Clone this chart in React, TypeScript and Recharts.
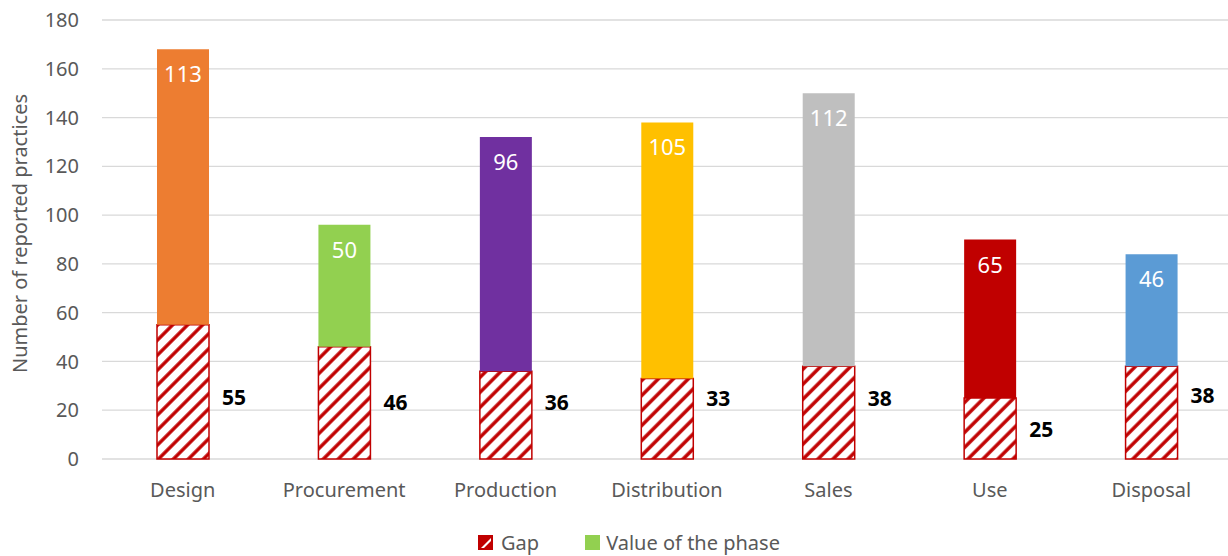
import React from 'react';
import { BarChart, Bar, XAxis, YAxis, CartesianGrid, Legend, LabelList, Cell } from 'recharts';

const categories = ['Design', 'Procurement', 'Production', 'Distribution', 'Sales', 'Use', 'Disposal'];
const gapValues = [55, 46, 36, 33, 38, 25, 38];
const phaseValues = [113, 50, 96, 105, 112, 65, 46];
const phaseColors = ['#ED7D31', '#92D050', '#7030A0', '#FFC000', '#BFBFBF', '#C00000', '#5B9BD5'];
const yTicks = [0, 20, 40, 60, 80, 100, 120, 140, 160, 180];
const seriesNames = ['Gap', 'Value of the phase'];
const yAxisTitle = 'Number of reported practices';

const data = categories.map((c, i) => ({ name: c, gap: gapValues[i], value: phaseValues[i] }));

// vertical nudges (px) of the manually placed gap labels relative to segment centre
const gapLabelNudge = [5, -1, -13, -21, -15, 0, -18];

const FONT = '"Noto Sans", sans-serif';
const RED = '#C00000';
const GREY = '#595959';

const GapLabel = (props: any) => {
  const { x, y, width, height, value, index } = props;
  const dy = gapLabelNudge[index] ?? 0;
  return (
    <text x={x + width + 13} y={y + height / 2 + dy} dominantBaseline="central" fontFamily={FONT}
      fontSize={21} fontWeight="bold" fill="#000">{value}</text>
  );
};

const ValueLabel = (props: any) => {
  const { x, y, width, value } = props;
  return (
    <text x={x + width / 2} y={y + 33} textAnchor="middle" fontFamily={FONT} fontSize={22} fill="#fff">{value}</text>
  );
};

const renderLegend = () => (
  <div style={{ display: 'flex', justifyContent: 'center', alignItems: 'center', fontFamily: FONT, fontSize: 20, color: GREY, paddingLeft: 26, paddingTop: 15 }}>
    <div style={{ display: 'flex', alignItems: 'center', marginRight: 46 }}>
      <svg width={15} height={15} style={{ marginRight: 8 }}>
        <rect x={0} y={0} width={15} height={15} fill={RED} />
        <polygon points="3,13 13,3 13,6 6,13" fill="#fff" />
        <rect x={0.75} y={0.75} width={13.5} height={13.5} fill="none" stroke={RED} strokeWidth={1.5} />
      </svg>
      <span>{seriesNames[0]}</span>
    </div>
    <div style={{ display: 'flex', alignItems: 'center' }}>
      <svg width={15} height={15} style={{ marginRight: 6 }}>
        <rect x={0} y={0} width={15} height={15} fill="#92D050" />
      </svg>
      <span>{seriesNames[1]}</span>
    </div>
  </div>
);

const YTitle = (props: any) => {
  const vb = props.viewBox || { x: 0, y: 20, width: 100, height: 439 };
  const cx = 19;
  const cy = vb.y + vb.height / 2 - 6;
  return (
    <text x={cx} y={cy} transform={`rotate(-90, ${cx}, ${cy})`} textAnchor="middle" dominantBaseline="central"
      fontFamily={FONT} fontSize={20} fill={GREY}>{yAxisTitle}</text>
  );
};

export default function App() {
  return (
    <div style={{ position: 'fixed', left: 0, top: 0, width: 1228, height: 556, overflow: 'hidden', background: '#fff' }}>
      <BarChart width={1232} height={556} data={data} margin={{ top: 20, right: 0, left: 0, bottom: 0 }}>
        <defs>
          <pattern id="hatch" patternUnits="userSpaceOnUse" width={10.6} height={10.6} patternTransform="rotate(45)">
            <rect x={0} y={0} width={10.6} height={10.6} fill="#fff" />
            <line x1={2} y1={0} x2={2} y2={10.6} stroke={RED} strokeWidth={3.4} />
          </pattern>
        </defs>
        <CartesianGrid vertical={false} stroke="#D9D9D9" strokeWidth={1.3} />
        <XAxis dataKey="name" axisLine={false} tickLine={false} tickSize={0} tickMargin={24} height={55}
          tick={{ fontFamily: FONT, fontSize: 20, fill: GREY }} interval={0} />
        <YAxis domain={[0, 180]} ticks={yTicks} axisLine={false} tickLine={false} tickSize={0} tickMargin={23} width={102}
          tick={{ fontFamily: FONT, fontSize: 20, fill: GREY }} label={<YTitle />} />
        <Legend verticalAlign="bottom" height={42} content={renderLegend} />
        <Bar dataKey="gap" name={seriesNames[0]} stackId="a" barSize={52} fill="url(#hatch)" stroke={RED} strokeWidth={1.5} isAnimationActive={false}>
          <LabelList dataKey="gap" content={<GapLabel />} />
        </Bar>
        <Bar dataKey="value" name={seriesNames[1]} stackId="a" barSize={52} isAnimationActive={false}>
          {data.map((d, i) => <Cell key={d.name} fill={phaseColors[i]} />)}
          <LabelList dataKey="value" content={<ValueLabel />} />
        </Bar>
      </BarChart>
    </div>
  );
}
